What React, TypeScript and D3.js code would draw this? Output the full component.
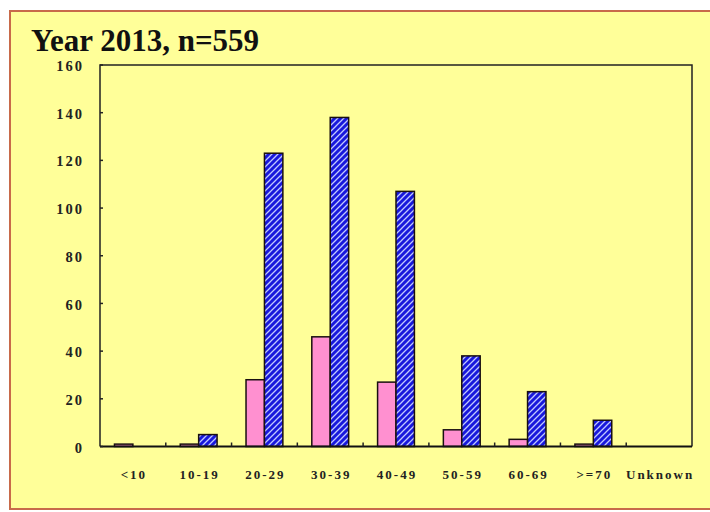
import * as React from "react";
import * as d3 from "d3";

const categories = ["<10", "10-19", "20-29", "30-39", "40-49", "50-59", "60-69", ">=70", "Unknown"];
const pinkValues = [1, 1, 28, 46, 27, 7, 3, 1, 0];
const blueValues = [0, 5, 123, 138, 107, 38, 23, 11, 0];
const yTicks = [0, 20, 40, 60, 80, 100, 120, 140, 160];
const series = ["pink", "blue"];

const W = 710;
const H = 512;
const plot = { left: 100, right: 692, top: 65, bottom: 446.5 };
const serif = "'Liberation Serif', 'Times New Roman', serif";

export default function App() {
  const x = d3.scaleBand<string>().domain(categories).range([plot.left, plot.right]).padding(0);
  const bw = x.bandwidth();
  const xSub = d3.scaleBand<string>().domain(series).range([bw * 0.22, bw * 0.78]).padding(0);
  const y = d3.scaleLinear().domain([0, 160]).range([plot.bottom, plot.top]);

  const bars = (vals: number[], key: string, fill: string) =>
    vals.map((v, i) => {
      if (v <= 0) return null;
      const x0 = (x(categories[i]) as number) + (xSub(key) as number);
      return (
        <rect key={key + i} x={x0} y={y(v)} width={xSub.bandwidth()} height={plot.bottom - y(v)}
          fill={fill} stroke="#1a1010" strokeWidth={1.5} />
      );
    });

  // boundaries between categories for the little upward ticks
  const bounds = categories.slice(1).map((c) => x(c) as number);

  return (
    <svg width={W} height={H} style={{ position: "absolute", left: 0, top: 0, background: "#fff" }}>
      <defs>
        <pattern id="hatch" patternUnits="userSpaceOnUse" width={6} height={6}>
          <rect width={6} height={6} fill="#1818dc" />
          <path d="M0,6 L6,0 M-1.5,1.5 L1.5,-1.5 M4.5,7.5 L7.5,4.5" stroke="#c0c8ff" strokeWidth={1.3} />
        </pattern>
      </defs>
      <rect x={10} y={11} width={W + 10} height={498} fill="#ffff99" stroke="#c86a4a" strokeWidth={2} />

      <text x={31} y={50.5} fontFamily={serif} fontWeight="bold" fontSize={31} fill="#111">
        Year 2013, n=559
      </text>

      {/* plot frame */}
      <path d={`M${plot.left},${plot.bottom} V${plot.top} H${plot.right} V${plot.bottom}`}
        fill="none" stroke="#222" strokeWidth={1.5} />

      {bars(pinkValues, "pink", "#ff90d0")}
      {bars(blueValues, "blue", "url(#hatch)")}

      <line x1={plot.left} x2={plot.right} y1={plot.bottom} y2={plot.bottom} stroke="#111" strokeWidth={2} />

      {yTicks.map((t) => (
        <g key={t}>
          <line x1={plot.left} x2={plot.left + 3} y1={y(t)} y2={y(t)} stroke="#222" strokeWidth={1.5} />
          <text x={84} y={y(t) + 1} dy="0.35em" textAnchor="end" fontFamily={serif} fontWeight="bold"
            fontSize={14.5} letterSpacing={2} fill="#222">
            {t}
          </text>
        </g>
      ))}

      {bounds.map((b, i) => (
        <line key={i} x1={b} x2={b} y1={plot.bottom} y2={plot.bottom - 4} stroke="#222" strokeWidth={1.5} />
      ))}

      {categories.map((c) => (
        <text key={c} x={(x(c) as number) + bw / 2 + 1} y={479} textAnchor="middle" fontFamily={serif}
          fontWeight="bold" fontSize={13} letterSpacing={2} fill="#222">
          {c}
        </text>
      ))}
    </svg>
  );
}
